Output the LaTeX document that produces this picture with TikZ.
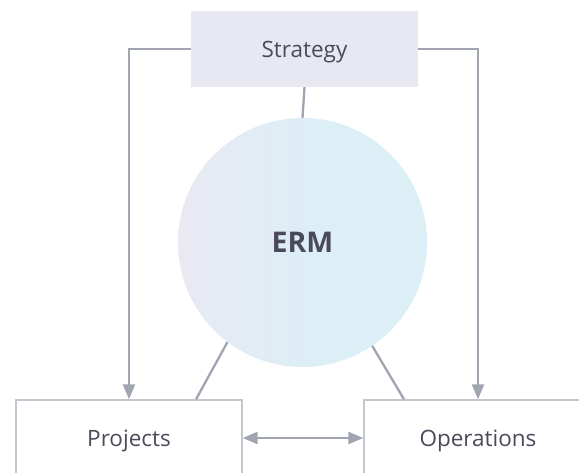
\documentclass[tikz,border=0pt]{standalone}
\usepackage{fontspec}
\setmainfont{Open Sans}
\usetikzlibrary{arrows.meta,calc}
\definecolor{linegray}{HTML}{A1A5B1}
\definecolor{boxgray}{HTML}{C4C7CF}
\definecolor{txt}{HTML}{4A4A5B}
\definecolor{stratfill}{HTML}{E8E8F3}
\definecolor{ermleft}{HTML}{E9E9F3}
\definecolor{ermright}{HTML}{DCEEF6}
% soft left-to-right wash for the central circle
\pgfdeclarehorizontalshading{ermwash}{100bp}{
  color(0bp)=(ermleft); color(25bp)=(ermleft); color(52bp)=(ermright);
  color(100bp)=(ermright)}
\tikzset{
  conn/.style={draw=linegray,line width=2.3pt},
  tip/.style={-{Triangle[length=15pt,width=12pt]}},
  label text/.style={text=txt,text depth=0pt,font=\fontsize{22.5}{26}\selectfont},
  unitbox/.style={label text,draw=boxgray,line width=1.4pt,fill=white,inner sep=0pt,
    minimum height=76pt},
}
\begin{document}
\begin{tikzpicture}[x=1pt,y=-1pt]
\useasboundingbox (0,0) rectangle (579,473);
\clip (0,0) rectangle (579,473);
\fill[white] (0,0) rectangle (579,473);

% nodes
\node[label text,fill=stratfill,inner sep=0pt,minimum width=227pt,minimum height=76pt]
      (strat) at (304.5,49) {Strategy};
\node[circle,inner sep=0pt,minimum size=249pt,shading=ermwash,
      text=txt,text depth=0pt,font=\bfseries\fontsize{28.5}{32}\selectfont]
      (erm) at (302.5,242.5) {ERM};
\node[unitbox,minimum width=226pt] (proj) at (129,438) {Projects};
\node[unitbox,minimum width=228pt] (ops) at (478,438) {Operations};

% connectors
\draw[conn] (strat.south) -- (erm.north);
\draw[conn,tip] (strat.west) -| (proj.north);
\draw[conn,tip] (strat.east) -| (ops.north);
\draw[conn] (erm.233.5) -- ($(proj.north)+(67,0)$);
\draw[conn] (erm.304) -- ($(ops.north)+(-74,0)$);
\draw[conn,{Triangle[length=15pt,width=12pt]}-{Triangle[length=15pt,width=12pt]}]
  (proj.east) -- (ops.west);
\end{tikzpicture}
\end{document}
